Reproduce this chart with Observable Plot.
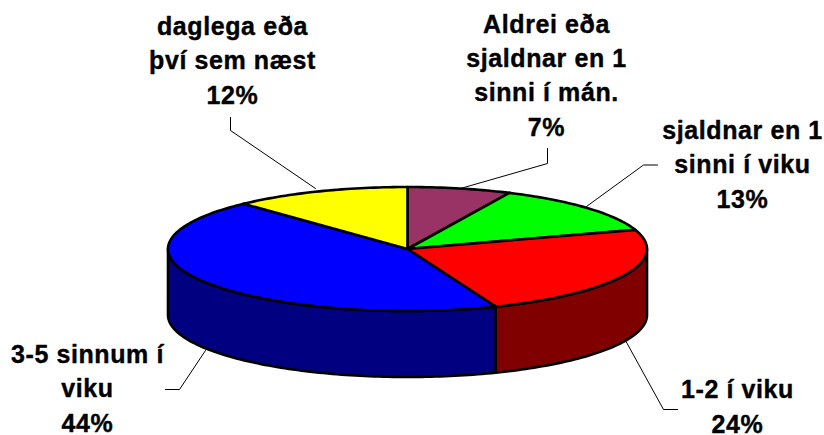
<!DOCTYPE html>
<html><head><meta charset="utf-8">
<script src="https://cdn.jsdelivr.net/npm/d3@7"></script>
<script src="https://cdn.jsdelivr.net/npm/@observablehq/plot@0.6"></script>
<style>html,body{margin:0;padding:0;background:#fff}svg{display:block}</style>
</head><body><div id="chart"></div>
<script>
const labels = ["Aldrei eða\nsjaldnar en 1\nsinni í mán.", "sjaldnar en 1\nsinni í viku", "1-2 í viku", "3-5 sinnum í\nviku", "daglega eða\nþví sem næst"];
const values = [7, 13, 24, 44, 12];
const topColors = ["#993366", "#00FF00", "#FF0000", "#0000FF", "#FFFF00"];
const sideColors = ["#4C1933", "#008000", "#800000", "#000080", "#808000"];

// label layout: centre and last-line baseline
const labelX = [546, 742, 737, 87, 232];
const labelY = [135, 207, 432, 431, 103];
// leader lines, from the label to the rim of the pie
const leaders = [
  [[547,148],[547,163],[460,188]],
  [[657,164.5],[643,164.5],[586,206]],
  [[677,409],[663,409],[625,340]],
  [[165,389],[179,389],[205,350]],
  [[230,117],[230,130],[315,188]]
];

const cx = 407, cy = 248.5, rx = 239.5, ry = 62, depth = 66, step = 0.02;
const rim = (t, d = 0) => ({x: cx + rx * Math.sin(t), y: cy - ry * Math.cos(t) + d});
const arc = (a, b, d = 0) => {
  const n = Math.max(1, Math.ceil((b - a) / step));
  return d3.range(n + 1).map(i => rim(a + (b - a) * i / n, d));
};

const total = d3.sum(values);
const cum = d3.cumsum(values);
const slices = values.map((v, i) => ({
  i, a: 2 * Math.PI * (cum[i] - v) / total, b: 2 * Math.PI * cum[i] / total
}));

const marks = [];
const shape = (pts, fill) => Plot.line(pts, {x: "x", y: "y", fill, stroke: "#000", strokeWidth: 2.6, strokeLinejoin: "round", curve: "linear-closed"});

// side walls: only the front half of the rim is visible
for (const s of slices) {
  const a = Math.max(s.a, Math.PI / 2), b = Math.min(s.b, 3 * Math.PI / 2);
  if (a < b) marks.push(shape([...arc(a, b), ...arc(a, b, depth).reverse()], sideColors[s.i]));
}
// top faces
for (const s of slices) marks.push(shape([{x: cx, y: cy}, ...arc(s.a, s.b)], topColors[s.i]));
// leaders
for (const l of leaders) marks.push(Plot.line(l, {x: d => d[0], y: d => d[1], stroke: "#000", strokeWidth: 1}));
// labels
marks.push(Plot.text(labels.map((t, i) => ({t: `${t}\n${values[i]}%`, x: labelX[i], y: labelY[i]})), {
  x: "x", y: "y", text: "t", textAnchor: "middle", lineAnchor: "bottom", lineHeight: 1.37,
  fontSize: 25, fontWeight: 700, fontFamily: "Liberation Sans", fill: "#000", stroke: "#000", strokeWidth: 0.4
}));

const plot = Plot.plot({
  width: 824, height: 435, margin: 0,
  x: {domain: [0, 824], range: [0, 824], axis: null},
  y: {domain: [0, 435], range: [0, 435], axis: null},
  style: {background: "#fff", letterSpacing: "0.6px"},
  marks
});
document.getElementById("chart").append(plot);
</script></body></html>
